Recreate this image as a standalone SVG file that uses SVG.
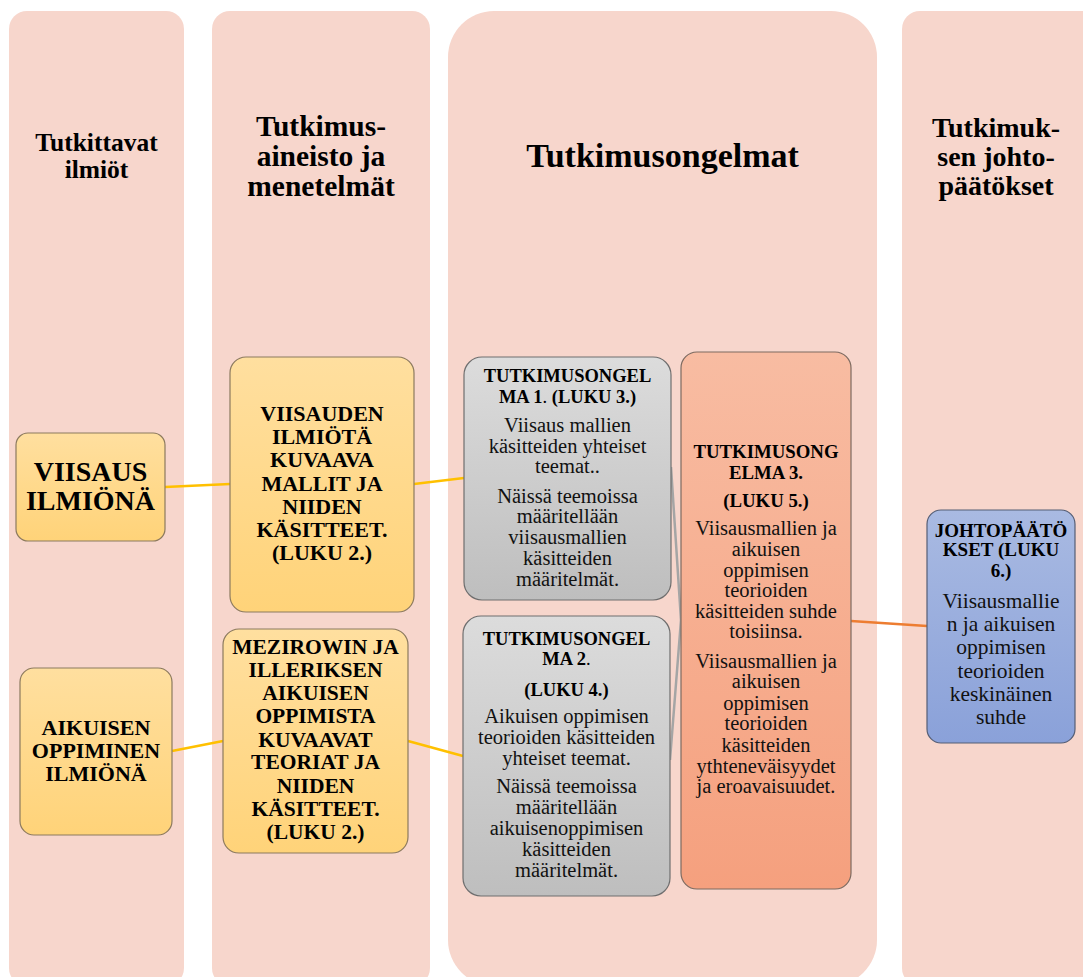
<svg xmlns="http://www.w3.org/2000/svg" width="1083" height="977" viewBox="0 0 1083 977">
<style>
.col{fill:#F7D6CC}
.hd{font-family:"Liberation Serif",serif;font-weight:bold;fill:#000;text-anchor:middle}
.b{font-family:"Liberation Serif",serif;font-weight:bold;fill:#000;text-anchor:middle}
.r{font-family:"Liberation Serif",serif;font-weight:normal;fill:#111;text-anchor:middle}
.yel{fill:url(#gy);stroke:#8C7A5E;stroke-width:1.2}
.gry{fill:url(#gg);stroke:#6E6E6E;stroke-width:1.2}
.sal{fill:url(#gs);stroke:#7D6A60;stroke-width:1.2}
.blu{fill:url(#gb);stroke:#555E75;stroke-width:1.2}
.cy{stroke:#FFC000;stroke-width:2.5;fill:none}
.cg{stroke:#A5A5A5;stroke-width:2.5;fill:none}
.co{stroke:#ED7D31;stroke-width:2.5;fill:none}
</style>
<defs>
<linearGradient id="gy" x1="0" y1="0" x2="0" y2="1"><stop offset="0" stop-color="#FFDF9F"/><stop offset="1" stop-color="#FFD379"/></linearGradient>
<linearGradient id="gg" x1="0" y1="0" x2="0" y2="1"><stop offset="0" stop-color="#DCDCDC"/><stop offset="1" stop-color="#BEBEBE"/></linearGradient>
<linearGradient id="gs" x1="0" y1="0" x2="0" y2="1"><stop offset="0" stop-color="#F8BCA2"/><stop offset="1" stop-color="#F5A07E"/></linearGradient>
<linearGradient id="gb" x1="0" y1="0" x2="0" y2="1"><stop offset="0" stop-color="#A9BAE2"/><stop offset="1" stop-color="#8AA1D9"/></linearGradient>
</defs>
<rect width="1083" height="977" fill="#fff"/>
<g id="columns">
<g id="col1"><rect class="col" x="9" y="11" width="175" height="975" rx="18"/><text class="hd" font-size="25.5"><tspan x="96.5" y="151">Tutkittavat</tspan><tspan x="96.5" y="178">ilmiöt</tspan></text></g>
<g id="col2"><rect class="col" x="212" y="11" width="218" height="975" rx="18"/><text class="hd" font-size="29.5"><tspan x="321" y="136">Tutkimus-</tspan><tspan x="321" y="166">aineisto ja</tspan><tspan x="321" y="196">menetelmät</tspan></text></g>
<g id="col3"><rect class="col" x="448" y="11" width="429" height="975" rx="46"/><text class="hd" font-size="34" x="662.5" y="167">Tutkimusongelmat</text></g>
<g id="col4"><rect class="col" x="902" y="11" width="200" height="975" rx="18"/><text class="hd" font-size="28"><tspan x="996" y="137">Tutkimuk-</tspan><tspan x="996" y="166">sen johto-</tspan><tspan x="996" y="195">päätökset</tspan></text></g>
</g>
<g id="connectors">
<line class="cy" x1="165" y1="487" x2="230" y2="484"/>
<line class="cy" x1="414" y1="484" x2="464" y2="478"/>
<line class="cy" x1="172" y1="751" x2="223" y2="741"/>
<line class="cy" x1="408" y1="741" x2="463" y2="756"/>
<polyline class="cg" points="671,467 681,620 670,760"/>
<line class="co" x1="851" y1="621" x2="927" y2="626"/>
</g>
<g id="n_viisaus"><rect class="yel" x="16" y="433" width="149" height="108" rx="12"/><text class="b" font-size="28"><tspan x="90.5" y="481">VIISAUS</tspan><tspan x="90.5" y="510">ILMIÖNÄ</tspan></text></g>
<g id="n_aikuisen"><rect class="yel" x="20" y="668" width="152" height="167" rx="14"/><text class="b" font-size="22"><tspan x="96" y="735">AIKUISEN</tspan><tspan x="96" y="758">OPPIMINEN</tspan><tspan x="96" y="781">ILMIÖNÄ</tspan></text></g>
<g id="n_viisauden"><rect class="yel" x="230" y="357" width="184" height="255" rx="16"/><text class="b" font-size="22"><tspan x="322" y="421">VIISAUDEN</tspan><tspan x="322" y="444">ILMIÖTÄ</tspan><tspan x="322" y="467">KUVAAVA</tspan><tspan x="322" y="491">MALLIT JA</tspan><tspan x="322" y="514">NIIDEN</tspan><tspan x="322" y="537">KÄSITTEET.</tspan><tspan x="322" y="560">(LUKU 2.)</tspan></text></g>
<g id="n_mezirowin"><rect class="yel" x="223" y="629" width="185" height="224" rx="16"/><text class="b" font-size="21.5"><tspan x="315.5" y="654">MEZIROWIN JA</tspan><tspan x="315.5" y="677">ILLERIKSEN</tspan><tspan x="315.5" y="700">AIKUISEN</tspan><tspan x="315.5" y="723">OPPIMISTA</tspan><tspan x="315.5" y="747">KUVAAVAT</tspan><tspan x="315.5" y="769">TEORIAT JA</tspan><tspan x="315.5" y="793">NIIDEN</tspan><tspan x="315.5" y="816">KÄSITTEET.</tspan><tspan x="315.5" y="839">(LUKU 2.)</tspan></text></g>
<g id="n_tm1"><rect class="gry" x="464" y="357" width="207" height="243" rx="18"/>
<text class="b" font-size="18.5"><tspan x="567.5" y="382">TUTKIMUSONGEL</tspan><tspan x="567.5" y="403">MA 1<tspan font-weight="normal">.</tspan> (LUKU 3.)</tspan></text>
<text class="r" font-size="20.5"><tspan x="567.5" y="432">Viisaus mallien</tspan><tspan x="567.5" y="453">käsitteiden yhteiset</tspan><tspan x="567.5" y="473">teemat..</tspan><tspan x="567.5" y="503">Näissä teemoissa</tspan><tspan x="567.5" y="523">määritellään</tspan><tspan x="567.5" y="544">viisausmallien</tspan><tspan x="567.5" y="565">käsitteiden</tspan><tspan x="567.5" y="586">määritelmät.</tspan></text></g>
<g id="n_tm2"><rect class="gry" x="463" y="616" width="207" height="280" rx="18"/>
<text class="b" font-size="18.5"><tspan x="566.5" y="645">TUTKIMUSONGEL</tspan><tspan x="566.5" y="665">MA 2<tspan font-weight="normal">.</tspan></tspan><tspan x="566.5" y="696">(LUKU 4.)</tspan></text>
<text class="r" font-size="20.5"><tspan x="566.5" y="723">Aikuisen oppimisen</tspan><tspan x="566.5" y="744">teorioiden käsitteiden</tspan><tspan x="566.5" y="765">yhteiset teemat.</tspan><tspan x="566.5" y="793">Näissä teemoissa</tspan><tspan x="566.5" y="814">määritellään</tspan><tspan x="566.5" y="835">aikuisenoppimisen</tspan><tspan x="566.5" y="856">käsitteiden</tspan><tspan x="566.5" y="877">määritelmät.</tspan></text></g>
<g id="n_tm3"><rect class="sal" x="681" y="352" width="170" height="537" rx="16"/>
<text class="b" font-size="18.8"><tspan x="766" y="458">TUTKIMUSONG</tspan><tspan x="766" y="479">ELMA 3.</tspan><tspan x="766" y="507">(LUKU 5.)</tspan></text>
<text class="r" font-size="20.5"><tspan x="766" y="535">Viisausmallien ja</tspan><tspan x="766" y="556">aikuisen</tspan><tspan x="766" y="577">oppimisen</tspan><tspan x="766" y="597">teorioiden</tspan><tspan x="766" y="618">käsitteiden suhde</tspan><tspan x="766" y="638">toisiinsa.</tspan><tspan x="766" y="668">Viisausmallien ja</tspan><tspan x="766" y="688">aikuisen</tspan><tspan x="766" y="710">oppimisen</tspan><tspan x="766" y="730">teorioiden</tspan><tspan x="766" y="752">käsitteiden</tspan><tspan x="766" y="773">ythteneväisyydet</tspan><tspan x="766" y="793">ja eroavaisuudet.</tspan></text></g>
<g id="n_johto"><rect class="blu" x="927" y="510" width="148" height="233" rx="14"/>
<text class="b" font-size="19"><tspan x="1001" y="537">JOHTOPÄÄTÖ</tspan><tspan x="1001" y="556">KSET (LUKU</tspan><tspan x="1001" y="577">6.)</tspan></text>
<text class="r" font-size="21.5"><tspan x="1001" y="608">Viisausmallie</tspan><tspan x="1001" y="631">n ja aikuisen</tspan><tspan x="1001" y="654">oppimisen</tspan><tspan x="1001" y="678">teorioiden</tspan><tspan x="1001" y="701">keskinäinen</tspan><tspan x="1001" y="724">suhde</tspan></text></g>
</svg>
